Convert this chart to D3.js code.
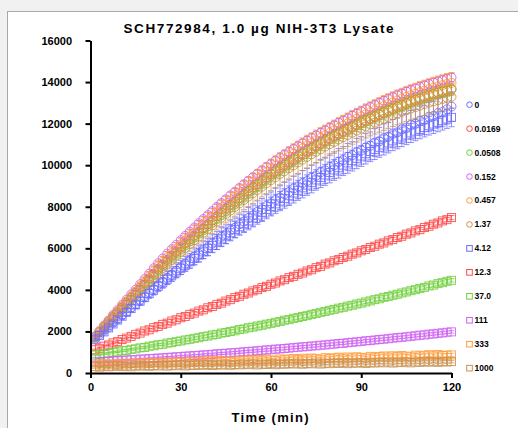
<!DOCTYPE html>
<html><head><meta charset="utf-8">
<script src="https://cdn.jsdelivr.net/npm/d3@7"></script>
<style>body{margin:0;background:#f1f1f1;overflow:hidden;} svg{display:block;}</style>
</head><body><svg id="chart" width="518" height="428"></svg>
<script>
// ---------------- DATA ----------------
const times = [1.5,3,4.5,6,7.5,9,10.5,12,13.5,15,16.5,18,19.5,21,22.5,24,25.5,27,28.5,30,
31.5,33,34.5,36,37.5,39,40.5,42,43.5,45,46.5,48,49.5,51,52.5,54,55.5,57,58.5,60,
61.5,63,64.5,66,67.5,69,70.5,72,73.5,75,76.5,78,79.5,81,82.5,84,85.5,87,88.5,90,
91.5,93,94.5,96,97.5,99,100.5,102,103.5,105,106.5,108,109.5,111,112.5,114,115.5,117,118.5,120];

const seriesLabels = ["0","0.0169","0.0508","0.152","0.457","1.37","4.12","12.3","37.0","111","333","1000"];
const xTicks = [0,30,60,90,120];
const yTicks = [0,2000,4000,6000,8000,10000,12000,14000,16000];
const titleText = "SCH772984, 1.0 \u00b5g NIH-3T3 Lysate";
const xTitle = "Time (min)";

const v0 = [1650,1840,2040,2210,2420,2590,2790,2960,3160,3330,3520,3690,3880,4040,4230,4390,4580,4730,4920,5080,
5260,5400,5590,5730,5910,6050,6230,6370,6550,6680,6860,6990,7160,7290,7460,7580,7760,7870,8040,8160,
8330,8440,8600,8710,8880,8980,9140,9240,9400,9500,9660,9750,9910,10000,10160,10240,10400,10480,10630,10710,
10860,10930,11090,11150,11310,11370,11520,11580,11730,11790,11940,11990,12140,12180,12330,12370,12510,12560,12690,12820];
const v0169 = [1740,1990,2230,2470,2710,2940,3170,3400,3630,3860,4100,4330,4560,4790,5010,5230,5440,5640,5830,6040,
6230,6420,6600,6790,6970,7150,7340,7540,7730,7910,8090,8250,8420,8600,8770,8940,9110,9270,9430,9590,
9740,9890,10030,10170,10310,10440,10570,10700,10820,10950,11070,11190,11310,11420,11530,11640,11750,11860,11960,12060,
12160,12260,12350,12450,12540,12630,12720,12810,12890,12980,13060,13140,13210,13280,13360,13430,13490,13550,13610,13660];
const v0508 = [1720,1970,2210,2450,2690,2920,3140,3370,3600,3820,4050,4270,4490,4710,4930,5140,5350,5550,5750,5950,
6140,6330,6510,6700,6880,7060,7240,7430,7610,7790,7970,8140,8320,8490,8660,8830,8990,9150,9310,9470,
9620,9770,9920,10060,10200,10340,10480,10610,10740,10870,10990,11120,11240,11360,11470,11590,11700,11810,11920,12020,
12130,12230,12330,12430,12520,12620,12710,12800,12890,12970,13060,13140,13220,13290,13360,13430,13490,13550,13600,13650];
const v152 = [1760,2020,2280,2530,2790,3030,3280,3530,3780,4010,4270,4520,4780,5040,5280,5510,5740,5960,6170,6390,
6600,6800,7000,7210,7410,7600,7790,7990,8180,8360,8550,8720,8900,9080,9250,9420,9590,9750,9910,10070,
10220,10370,10510,10650,10790,10920,11060,11190,11310,11440,11560,11680,11800,11920,12040,12150,12260,12380,12490,12590,
12700,12800,12900,13000,13100,13190,13280,13370,13450,13540,13620,13690,13770,13840,13910,13980,14040,14100,14160,14220];
const v457 = [1750,2000,2250,2490,2740,2970,3210,3450,3690,3910,4160,4400,4650,4900,5130,5350,5570,5780,5980,6190,
6380,6570,6760,6970,7160,7350,7540,7740,7930,8110,8300,8470,8650,8830,9000,9170,9340,9500,9660,9820,
9970,10120,10260,10400,10540,10670,10810,10940,11060,11190,11310,11430,11550,11670,11790,11900,12010,12130,12240,12340,
12450,12550,12650,12750,12850,12940,13030,13120,13200,13290,13370,13440,13520,13590,13660,13730,13790,13850,13910,13960];
const v137 = [1700,1940,2180,2410,2650,2870,3090,3310,3530,3750,3970,4190,4410,4620,4830,5040,5240,5440,5640,5830,
6020,6210,6390,6570,6750,6930,7110,7290,7470,7650,7820,7990,8160,8330,8490,8650,8810,8970,9130,9280,
9430,9580,9720,9860,10000,10140,10270,10400,10530,10650,10770,10890,11010,11120,11240,11350,11450,11560,11660,11760,
11860,11960,12050,12140,12230,12320,12410,12490,12570,12650,12730,12800,12870,12940,13010,13070,13130,13190,13240,13290];
const v412 = [1600,1800,1980,2170,2360,2550,2730,2920,3100,3280,3460,3640,3820,3990,4170,4340,4510,4680,4850,5020,
5180,5350,5510,5670,5830,5990,6140,6300,6450,6600,6750,6900,7040,7180,7320,7460,7600,7730,7870,8010,
8140,8270,8400,8530,8660,8790,8910,9040,9160,9290,9410,9530,9650,9770,9880,10000,10110,10220,10330,10440,
10550,10660,10760,10860,10970,11070,11170,11260,11360,11450,11550,11640,11720,11810,11900,11980,12060,12140,12220,12300];
const v123 = [1120,1190,1290,1350,1450,1510,1610,1680,1760,1860,1920,2020,2080,2180,2240,2340,2400,2500,2560,2660,
2720,2820,2880,2980,3040,3140,3200,3300,3360,3460,3530,3630,3690,3790,3850,3950,4010,4110,4170,4270,
4330,4430,4490,4590,4650,4750,4810,4910,4970,5070,5130,5240,5300,5400,5460,5560,5620,5720,5780,5880,
5940,6040,6100,6200,6260,6360,6420,6520,6580,6680,6740,6840,6900,7000,7060,7160,7220,7320,7380,7480];
const v370 = [860,880,930,950,1000,1020,1070,1090,1140,1160,1210,1230,1290,1310,1360,1380,1440,1460,1510,1540,
1590,1620,1670,1700,1750,1780,1830,1860,1920,1950,2000,2030,2090,2120,2180,2210,2260,2300,2350,2390,
2440,2480,2540,2570,2630,2670,2720,2760,2820,2860,2920,2960,3020,3060,3120,3160,3220,3260,3320,3360,
3420,3470,3530,3570,3640,3680,3740,3790,3850,3900,3960,4010,4070,4120,4190,4230,4300,4350,4410,4460];
const v111 = [540,540,560,570,590,590,610,620,640,640,670,670,690,700,720,730,750,760,780,790,
810,820,840,850,870,880,900,920,940,950,970,980,1000,1020,1040,1050,1070,1090,1110,1120,
1150,1160,1180,1200,1220,1240,1260,1270,1300,1310,1340,1350,1380,1390,1420,1430,1460,1480,1500,1520,
1550,1560,1590,1610,1630,1650,1680,1700,1720,1740,1770,1790,1820,1830,1870,1880,1910,1930,1960,1980];
const v333 = [420,380,450,400,440,410,470,430,450,480,440,500,460,490,520,470,530,490,540,510,
480,560,520,550,580,530,590,550,600,570,540,620,580,610,640,590,650,610,660,630,
600,680,640,670,700,650,710,670,720,690,660,740,700,730,760,710,770,730,780,750,
720,800,760,790,820,770,830,790,840,810,780,860,820,850,880,830,890,840,860,870];
const v1000 = [310,280,330,300,320,350,310,340,300,350,330,370,320,360,340,380,330,370,350,390,
340,380,360,400,370,410,360,400,380,420,370,410,390,430,400,440,390,430,410,450,
400,440,420,460,430,470,420,460,440,480,430,470,450,490,460,500,450,490,470,510,
460,500,480,520,490,530,480,520,500,540,490,530,510,550,520,560,510,550,530,550];

// error (±) values
const e0 = [50,70,90,110,130,150,170,190,210,230,250,260,270,280,290,300,310,320,330,340,
350,360,380,390,400,410,420,430,440,450,460,470,480,490,500,510,520,530,540,550,
560,570,570,580,590,590,600,610,610,620,620,630,630,640,640,650,650,650,660,660,
660,670,670,670,680,680,680,690,690,690,690,700,700,700,700,700,710,710,710,710];
const e0169 = [30,40,50,60,70,80,90,100,100,110,110,120,120,130,130,140,140,150,150,160,
160,170,170,180,180,190,190,200,200,200,210,210,210,220,220,220,230,230,230,230,
240,240,240,240,240,240,240,240,240,240,250,250,250,250,250,250,250,250,250,250,
250,250,250,250,250,250,250,250,250,250,250,250,250,250,250,250,250,250,250,250];
const e0508 = [30,40,50,60,70,80,90,100,110,120,130,140,140,150,150,160,160,170,170,180,
180,190,190,200,200,210,210,220,220,230,230,240,240,250,250,250,260,260,260,270,
270,270,280,280,280,280,290,290,290,290,290,300,300,300,300,300,300,300,300,300,
300,300,300,300,300,300,300,300,300,300,300,300,300,300,300,300,300,300,300,300];
const e152 = [30,35,40,45,50,55,60,65,70,75,80,85,90,95,100,100,105,110,110,115,
120,120,125,130,130,135,135,140,140,145,145,150,150,155,155,160,160,165,165,170,
170,175,175,180,180,185,185,190,190,190,195,195,195,200,200,200,200,200,200,200,
200,200,200,200,200,200,200,200,200,200,200,200,200,200,200,200,200,200,200,200];
const e457 = [40,60,80,100,120,140,160,180,190,200,210,220,230,240,250,260,270,280,290,300,
310,320,330,340,350,360,370,380,390,400,410,420,430,440,450,450,460,460,470,470,
480,480,480,490,490,490,500,500,500,500,500,500,500,500,500,500,500,500,500,500,
500,500,500,500,500,500,500,500,500,500,500,500,500,500,500,500,500,500,500,500];
const e137 = [50,70,90,110,130,150,170,190,210,230,240,250,260,270,280,290,300,310,320,330,
340,350,360,370,380,390,400,410,420,430,440,450,460,470,480,490,490,500,500,510,
510,520,520,520,530,530,530,540,540,540,540,550,550,550,550,550,550,550,550,550,
550,550,550,550,550,550,550,550,550,550,550,550,550,550,550,550,550,550,550,550];
const e412 = [50,60,80,90,110,120,140,150,170,180,190,200,210,220,230,240,250,260,270,280,
290,300,310,320,330,340,350,360,370,380,390,400,410,420,430,430,440,440,450,450,
460,460,470,470,480,480,480,490,490,490,490,500,500,500,500,500,500,500,500,500,
490,490,490,480,480,480,470,470,470,460,460,460,450,450,450,450,450,450,450,450];
const e123 = [30,30,35,35,40,40,45,45,50,50,55,55,60,60,60,65,65,70,70,70,
75,75,80,80,80,85,85,90,90,90,90,95,95,95,100,100,100,100,100,100,
100,100,100,100,100,100,100,100,100,100,100,100,100,100,100,100,100,100,100,100,
100,100,100,100,100,100,100,100,100,100,100,100,100,100,100,100,100,100,100,100];
const e370 = [30,30,30,35,35,35,40,40,40,45,45,45,50,50,50,55,55,55,60,60,
60,60,65,65,65,65,70,70,70,70,70,75,75,75,75,75,80,80,80,80,
80,80,80,80,80,80,80,80,80,80,80,80,80,80,80,80,80,80,80,80,
80,80,80,80,80,80,80,80,80,80,80,80,80,80,80,80,80,80,80,80];
const e111 = [20,20,20,25,25,25,30,30,30,30,35,35,35,35,40,40,40,40,40,45,
45,45,45,45,50,50,50,50,50,50,50,55,55,55,55,55,55,55,60,60,
60,60,60,60,60,60,60,60,60,60,60,60,60,60,60,60,60,60,60,60,
60,60,60,60,60,60,60,60,60,60,60,60,60,60,60,60,60,60,60,60];
const e333 = [20,25,30,30,35,35,40,40,45,45,50,50,50,55,55,55,60,60,60,60,
65,65,65,65,70,70,70,70,70,75,75,75,75,75,75,80,80,80,80,80,
80,80,80,80,80,80,80,80,80,80,80,80,80,80,80,80,80,80,80,80,
80,80,80,80,80,80,80,80,80,80,80,80,80,80,80,80,80,80,80,80];
const e1000 = [20,20,25,25,30,30,30,35,35,35,40,40,40,40,45,45,45,45,50,50,
50,50,50,55,55,55,55,55,55,60,60,60,60,60,60,60,60,60,60,60,
60,60,60,60,60,60,60,60,60,60,60,60,60,60,60,60,60,60,60,60,
60,60,60,60,60,60,60,60,60,60,60,60,60,60,60,60,60,60,60,60];

const seriesValues = [v0,v0169,v0508,v152,v457,v137,v412,v123,v370,v111,v333,v1000];
const seriesErrors = [e0,e0169,e0508,e152,e457,e137,e412,e123,e370,e111,e333,e1000];

// ---------------- STYLE ----------------
const palette = ["#6b6bff","#ff4545","#6fcf3a","#cc5ff2","#ff9a36","#c9914f"];
const FONT = "Arial, 'Liberation Sans', Helvetica, sans-serif";

const series = seriesLabels.map((lab, i) => ({
  label: lab,
  shape: i < 6 ? "circle" : "square",
  color: palette[i % 6],
  points: times.map((t, j) => ({t, v: seriesValues[i][j], e: seriesErrors[i][j]}))
}));

// ---------------- DRAW ----------------
const svg = d3.select("#chart");
svg.append("rect").attr("x", 0).attr("y", 0).attr("width", 518).attr("height", 428).attr("fill", "#f1f1f1");
svg.append("rect").attr("x", 7.5).attr("y", 11.5).attr("width", 530).attr("height", 440)
  .attr("fill", "#ffffff").attr("stroke", "#a9a9a9").attr("stroke-width", 1);

const x = d3.scaleLinear().domain([0, 120]).range([90.5, 451.5]);
const y = d3.scaleLinear().domain([0, 16000]).range([373, 40.5]);

// title
svg.append("text").attr("x", 258.5).attr("y", 33)
  .attr("text-anchor", "middle").attr("font-family", FONT).attr("font-weight", "bold")
  .attr("font-size", 13.5).attr("textLength", 270).attr("lengthAdjust", "spacing")
  .text(titleText);

// series
const plot = svg.append("g");
series.forEach(s => {
  const g = plot.append("g");
  const eb = g.append("g").attr("stroke", s.color).attr("stroke-width", 1).attr("stroke-opacity", 0.75).attr("fill", "none");
  eb.selectAll("line.v").data(s.points).join("line").attr("class", "v")
    .attr("x1", d => x(d.t)).attr("x2", d => x(d.t))
    .attr("y1", d => y(d.v - d.e)).attr("y2", d => y(d.v + d.e));
  eb.selectAll("line.t").data(s.points).join("line").attr("class", "t")
    .attr("x1", d => x(d.t) - 3).attr("x2", d => x(d.t) + 3)
    .attr("y1", d => y(d.v + d.e)).attr("y2", d => y(d.v + d.e));
  eb.selectAll("line.b").data(s.points).join("line").attr("class", "b")
    .attr("x1", d => x(d.t) - 3).attr("x2", d => x(d.t) + 3)
    .attr("y1", d => y(d.v - d.e)).attr("y2", d => y(d.v - d.e));
  const mk = g.append("g").attr("stroke", s.color).attr("stroke-width", 1).attr("fill", "none").attr("stroke-opacity", 0.85);
  if (s.shape === "circle") {
    mk.selectAll("circle").data(s.points).join("circle")
      .attr("cx", d => x(d.t)).attr("cy", d => y(d.v)).attr("r", 4.5);
  } else {
    mk.selectAll("rect").data(s.points).join("rect")
      .attr("x", d => x(d.t) - 4).attr("y", d => y(d.v) - 4).attr("width", 8).attr("height", 8);
  }
});

// axes
const yAxis = d3.axisLeft(y).tickValues(yTicks).tickSize(5).tickSizeOuter(0).tickPadding(13.5).tickFormat(d3.format("d"));
const xAxis = d3.axisBottom(x).tickValues(xTicks).tickSize(5).tickSizeOuter(0).tickPadding(5).tickFormat(d3.format("d"));
const gy = svg.append("g").attr("transform", "translate(90.5,0)").call(yAxis);
const gx = svg.append("g").attr("transform", "translate(0,373)").call(xAxis);
[gx, gy].forEach(g => {
  g.select(".domain").attr("stroke", "#000").attr("stroke-width", 2);
  g.selectAll(".tick line").attr("stroke", "#000").attr("stroke-width", 2);
  g.selectAll(".tick text").attr("font-family", FONT).attr("font-weight", "bold")
    .attr("font-size", 11).attr("fill", "#000");
});

// x title
svg.append("text").attr("x", 270).attr("y", 421.5)
  .attr("text-anchor", "middle").attr("font-family", FONT).attr("font-weight", "bold")
  .attr("font-size", 13).attr("textLength", 77).attr("lengthAdjust", "spacing")
  .text(xTitle);

// legend
const leg = svg.append("g");
series.forEach((s, i) => {
  const ly = 104.7 + i * 23.95;
  if (s.shape === "circle") {
    leg.append("circle").attr("cx", 469.5).attr("cy", ly).attr("r", 2.8)
      .attr("fill", "none").attr("stroke", s.color).attr("stroke-width", 1);
  } else {
    leg.append("rect").attr("x", 466.7).attr("y", ly - 2.8).attr("width", 5.6).attr("height", 5.6)
      .attr("fill", "none").attr("stroke", s.color).attr("stroke-width", 1);
  }
  leg.append("text").attr("x", 474.5).attr("y", ly).attr("dy", "0.35em")
    .attr("font-family", FONT).attr("font-weight", "bold").attr("font-size", 8.5)
    .attr("fill", "#000").text(s.label);
});
</script>
</body></html>
